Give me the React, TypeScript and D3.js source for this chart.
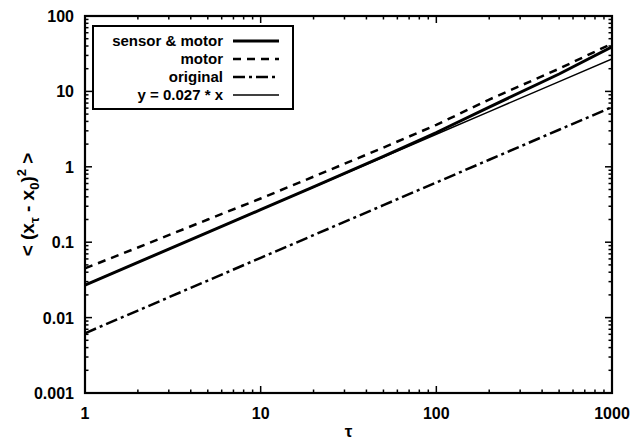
import React from 'react';
import * as d3 from 'd3';

// values (log-log)
const taus = [1, 2, 5, 10, 20, 50, 100, 200, 500, 1000];
const sensorMotor = [0.027, 0.054, 0.135, 0.27, 0.54, 1.37, 2.85, 6.2, 17, 39];
const motor = [0.045, 0.085, 0.2, 0.38, 0.74, 1.8, 3.6, 7.8, 20, 43];
const original = [0.0062, 0.0124, 0.031, 0.062, 0.124, 0.31, 0.62, 1.24, 3.1, 6.2];
const fitSlope = 0.027;

const xTicks = [1, 10, 100, 1000];
const yTicks = [0.001, 0.01, 0.1, 1, 10, 100];
const yTickLabels = ['0.001', '0.01', '0.1', '1', '10', '100'];

const legendItems = [
  { label: 'sensor & motor', width: 3, dash: '' },
  { label: 'motor', width: 2.5, dash: '8,6' },
  { label: 'original', width: 2.5, dash: '12,4,3,4' },
  { label: 'y = 0.027 * x', width: 1.5, dash: '' },
];

const W = 636;
const H = 441;
const margin = { top: 16, right: 24, bottom: 48, left: 85 };
const font = '"Liberation Sans", Arial, sans-serif';

const App = () => {
  const x = d3.scaleLog().domain([1, 1000]).range([margin.left, W - margin.right]);
  const y = d3.scaleLog().domain([0.001, 100]).range([H - margin.bottom, margin.top]);

  const line = d3.line<[number, number]>()
    .x(d => x(d[0]))
    .y(d => y(d[1]));

  const series = [
    { values: sensorMotor, ...legendItems[0] },
    { values: motor, ...legendItems[1] },
    { values: original, ...legendItems[2] },
    { values: taus.map(t => fitSlope * t), ...legendItems[3] },
  ];

  const x0 = margin.left, x1 = W - margin.right;
  const y0 = H - margin.bottom, y1 = margin.top;

  // minor ticks
  const xMinor: number[] = [];
  for (const d of [1, 10, 100]) for (let k = 2; k <= 9; k++) xMinor.push(d * k);
  const yMinor: number[] = [];
  for (const d of [0.001, 0.01, 0.1, 1, 10]) for (let k = 2; k <= 9; k++) yMinor.push(d * k);

  const legend = { x: 93, y: 26, w: 200, h: 83 };

  return (
    <svg width={W} height={H} style={{ position: 'absolute', left: 0, top: 0 }}>
      <rect width={W} height={H} fill="white" />
      <defs>
        <clipPath id="plot">
          <rect x={x0} y={y1} width={x1 - x0} height={y0 - y1} />
        </clipPath>
      </defs>
      <g clipPath="url(#plot)">
        {series.map((s, i) => (
          <path
            key={i}
            d={line(taus.map((t, j) => [t, s.values[j]]) as [number, number][]) || ''}
            fill="none"
            stroke="black"
            strokeWidth={s.width}
            strokeDasharray={s.dash}
          />
        ))}
      </g>

      {/* ticks */}
      <g stroke="black" strokeWidth={1.5}>
        {xTicks.map(t => (
          <g key={'xt' + t}>
            <line x1={x(t)} x2={x(t)} y1={y0} y2={y0 - 7} />
            <line x1={x(t)} x2={x(t)} y1={y1} y2={y1 + 7} />
          </g>
        ))}
        {xMinor.map(t => (
          <g key={'xm' + t}>
            <line x1={x(t)} x2={x(t)} y1={y0} y2={y0 - 3.5} />
            <line x1={x(t)} x2={x(t)} y1={y1} y2={y1 + 3.5} />
          </g>
        ))}
        {yTicks.map(t => (
          <g key={'yt' + t}>
            <line x1={x0} x2={x0 + 7} y1={y(t)} y2={y(t)} />
            <line x1={x1} x2={x1 - 7} y1={y(t)} y2={y(t)} />
          </g>
        ))}
        {yMinor.map(t => (
          <g key={'ym' + t}>
            <line x1={x0} x2={x0 + 3.5} y1={y(t)} y2={y(t)} />
            <line x1={x1} x2={x1 - 3.5} y1={y(t)} y2={y(t)} />
          </g>
        ))}
      </g>

      <rect x={x0} y={y1} width={x1 - x0} height={y0 - y1} fill="none" stroke="black" strokeWidth={2.2} />

      {/* tick labels */}
      <g fontFamily={font} fontSize={16} fontWeight="bold" fill="black">
        {xTicks.map(t => (
          <text key={'xl' + t} x={x(t)} y={y0 + 26} textAnchor="middle">{t}</text>
        ))}
        {yTicks.map((t, i) => (
          <text key={'yl' + t} x={x0 - 11} y={y(t) + 6} textAnchor="end">{yTickLabels[i]}</text>
        ))}
      </g>

      {/* axis titles */}
      <text x={(x0 + x1) / 2} y={437} textAnchor="middle" fontFamily={font} fontSize={17} fontWeight="bold">τ</text>
      <text
        transform={`translate(34,${(y0 + y1) / 2}) rotate(-90)`}
        textAnchor="middle"
        fontFamily={font}
        fontSize={19}
        fontWeight="bold"
      >
        {'< (x'}
        <tspan fontSize={13} dy={5}>τ</tspan>
        <tspan dy={-5}>{' - x'}</tspan>
        <tspan fontSize={13} dy={5}>0</tspan>
        <tspan dy={-5}>)</tspan>
        <tspan fontSize={13} dy={-8}>2</tspan>
        <tspan dy={8}>{' >'}</tspan>
      </text>

      {/* legend */}
      <g>
        <rect x={legend.x} y={legend.y} width={legend.w} height={legend.h} fill="white" stroke="black" strokeWidth={2} />
        {legendItems.map((it, i) => {
          const cy = legend.y + 15 + i * 18;
          return (
            <g key={it.label}>
              <text x={223} y={cy + 5} textAnchor="end" fontFamily={font} fontSize={15} fontWeight="bold">{it.label}</text>
              <line x1={233} x2={279} y1={cy} y2={cy} stroke="black" strokeWidth={it.width} strokeDasharray={it.dash} />
            </g>
          );
        })}
      </g>
    </svg>
  );
};

export default App;
